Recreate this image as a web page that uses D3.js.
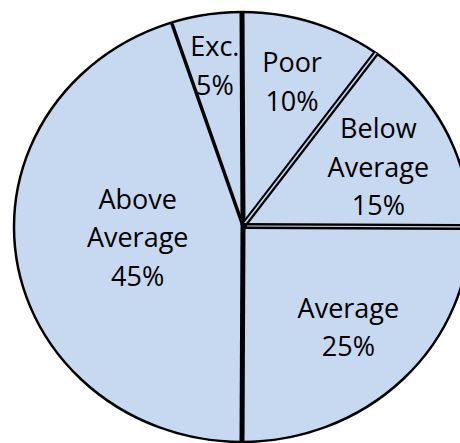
<!DOCTYPE html>
<html><head><meta charset="utf-8">
<script src="https://cdn.jsdelivr.net/npm/d3@7"></script>
<style>html,body{margin:0;padding:0;background:#fff;}svg{display:block;}</style>
</head><body>
<svg id="chart" width="460" height="443"></svg>
<script>
const categories = ["Poor", "Below Average", "Average", "Above Average", "Exc."];
const labelLines = [["Poor"], ["Below", "Average"], ["Average"], ["Above", "Average"], ["Exc."]];
const values = [10, 15, 25, 45, 5];
const percentLabels = ["10%", "15%", "25%", "45%", "5%"];

const W = 460, H = 443;
const cx = 242, cy = 227, rx = 228, ry = 215;
const fill = "#c6d9f1";
const svg = d3.select("#chart");

const pie = d3.pie().sort(null).value(d => d)(values);
const arc = d3.arc().innerRadius(0).outerRadius(ry);

// slices (ellipse: scaled circle)
const g = svg.append("g").attr("transform", `translate(${cx},${cy}) scale(${rx/ry},1)`);
g.selectAll("path").data(pie).join("path")
  .attr("d", arc).attr("fill", fill).attr("stroke", fill).attr("stroke-width", 0.5);

// outer outline
svg.append("ellipse").attr("cx", cx).attr("cy", cy).attr("rx", rx).attr("ry", ry)
  .attr("fill", "none").attr("stroke", "#000").attr("stroke-width", 2.5);

// boundary line styles, per slice start boundary
const lineStyle = [
  {w: 5, dbl: 0},      // top vertical (start of Poor)
  {w: 6, dbl: 1.6},    // Poor / Below Average (double)
  {w: 6, dbl: 1.2},    // Below Average / Average (double)
  {w: 5, dbl: 0},      // Average / Above Average (bottom vertical)
  {w: 3.5, dbl: 0}     // Above Average / Exc.
];
const lc = [243, 226];
const edgePt = a => [cx + rx * Math.sin(a), cy - ry * Math.cos(a)];
const lineGen = d3.line();
pie.forEach((p, i) => {
  const pts = [lc, edgePt(p.startAngle)];
  const s = lineStyle[i];
  svg.append("path").attr("d", lineGen(pts)).attr("stroke", "#000")
    .attr("stroke-width", s.w).attr("fill", "none");
  if (s.dbl) {
    svg.append("path").attr("d", lineGen([[lc[0] + (i===2?4:3)*Math.sin(p.startAngle), lc[1] - 3*Math.cos(p.startAngle)], pts[1]]))
      .attr("stroke", fill).attr("stroke-width", s.dbl).attr("fill", "none");
  }
});

// labels
const labelPlace = [
  {r: 0.71, da: 0},
  {r: 0.66, da: 2},
  {r: 0.66, da: 0},
  {r: 0.46, da: 3},
  {r: 0.76, da: 0}
];
const fontSize = 27, lineH = 38.5;
pie.forEach((p, i) => {
  const a = (p.startAngle + p.endAngle) / 2 + labelPlace[i].da * Math.PI / 180;
  const r = labelPlace[i].r * ry;
  const x = cx + r * Math.sin(a) * rx / ry;
  const y = cy - r * Math.cos(a);
  const lines = labelLines[i].concat([percentLabels[i]]);
  const n = lines.length;
  const t = svg.append("text").attr("text-anchor", "middle")
    .attr("font-family", "'Open Sans', sans-serif").attr("font-size", fontSize).attr("fill", "#000");
  lines.forEach((ln, k) => {
    t.append("tspan").attr("x", x).attr("y", y + (k - (n - 1) / 2) * lineH + fontSize * 0.36).text(ln);
  });
});
</script>
</body></html>
